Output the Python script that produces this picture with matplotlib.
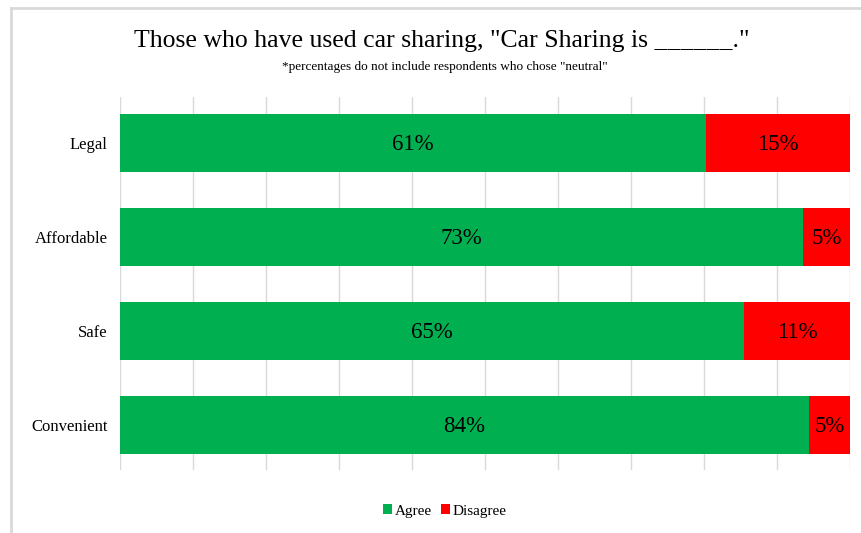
import matplotlib
matplotlib.use("Agg")
import matplotlib.pyplot as plt
from matplotlib.lines import Line2D
from matplotlib.patches import Patch
import numpy as np

categories = ["Legal", "Affordable", "Safe", "Convenient"]
agree = [61, 73, 65, 84]
disagree = [15, 5, 11, 5]
series_names = ["Agree", "Disagree"]
colors = ["#00B050", "#FF0000"]

plt.rcParams["font.family"] = ["Liberation Serif", "DejaVu Serif"]

W, H = 862, 533
fig = plt.figure(figsize=(W / 100, H / 100), dpi=100)
fig.patch.set_facecolor("white")

# light frame along the top and left edges
fig.add_artist(Line2D([11 / W, 11 / W], [0, 1 - 8 / H], transform=fig.transFigure,
                      color="#d9d9d9", lw=2))
fig.add_artist(Line2D([11 / W, 1], [1 - 8 / H, 1 - 8 / H], transform=fig.transFigure,
                      color="#d9d9d9", lw=2))

ax = fig.add_axes([120 / W, 1 - 470 / H, 730 / W, (470 - 97) / H])

agree_a = np.array(agree, float)
dis_a = np.array(disagree, float)
total = agree_a + dis_a
agree_frac = agree_a / total
dis_frac = dis_a / total

y = np.arange(len(categories))[::-1]
bh = 0.62
ax.barh(y, agree_frac, height=bh, color=colors[0], zorder=3)
ax.barh(y, dis_frac, left=agree_frac, height=bh, color=colors[1], zorder=3)

for yi, a, af, d, df in zip(y, agree, agree_frac, disagree, dis_frac):
    ax.text(af / 2, yi - 0.02, f"{a}%", ha="center", va="center", fontsize=16.5, zorder=4)
    ax.text(af + df / 2, yi - 0.02, f"{d}%", ha="center", va="center", fontsize=16.5, zorder=4)

ax.set_xlim(0, 1)
ax.set_ylim(-0.48, 3.49)
ax.set_xticks(np.linspace(0, 1, 11))
ax.set_xticklabels([])
ax.tick_params(axis="x", length=0)
ax.grid(axis="x", color="#d9d9d9", lw=1, zorder=0)
ax.set_yticks(y)
ax.set_yticklabels(categories, fontsize=12)
ax.tick_params(axis="y", length=0, pad=9)
for s in ax.spines.values():
    s.set_visible(False)

fig.text(442 / W, 1 - 41 / H, 'Those who have used car sharing, "Car Sharing is ______."',
         ha="center", va="center", fontsize=18.5)
fig.text(445 / W, 1 - 67 / H, '*percentages do not include respondents who chose "neutral"',
         ha="center", va="center", fontsize=9.5)

handles = [Patch(facecolor=c, edgecolor="none") for c in colors]
fig.legend(handles, series_names, loc="center", bbox_to_anchor=(445 / W, 1 - 511 / H),
           ncol=2, frameon=False, fontsize=11, handlelength=0.55, handleheight=0.55,
           handletextpad=0.2, columnspacing=0.6)

fig.savefig("out.png", dpi=100, facecolor="white")
